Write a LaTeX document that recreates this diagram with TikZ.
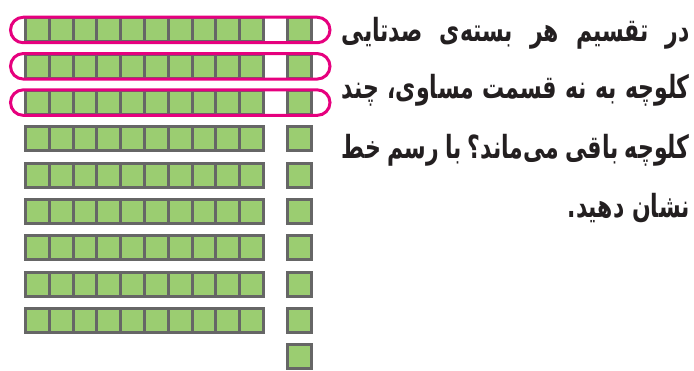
\documentclass[tikz,border=0pt]{standalone}
\usepackage{fontspec}
\usepackage{graphicx}
\newfontfamily\arabicfont[Script=Arabic]{DejaVu Sans}
\TeXXeTstate=1
\definecolor{cellgreen}{HTML}{9BCD71}
\definecolor{cellgray}{HTML}{666666}
\definecolor{ringpink}{HTML}{E6007E}
\definecolor{inkblack}{HTML}{231F20}
\newcommand{\faline}[1]{\scalebox{1}[1.45]{\makebox[348pt][s]{\beginR #1\endR}}}
\begin{document}
\begin{tikzpicture}[x=1pt,y=-1pt,
  cell/.style={draw=cellgray,fill=cellgreen,line width=3pt},
  ring/.style={draw=ringpink,line width=3pt,rounded corners=12.75pt},
  txt/.style={anchor=base east,inner sep=0pt,text=inkblack,font=\arabicfont\bfseries\fontsize{22}{28}\selectfont}]
\useasboundingbox (0,0) rectangle (694,371);
\foreach \i in {0,...,8}{
  \pgfmathsetmacro\yc{30+36.3*\i}
  \foreach \j in {0,...,9}{
    \draw[cell] (25.5+23.8*\j,\yc-12) rectangle ++(23.8,24);
  }
  \draw[cell] (287.5,\yc-12) rectangle ++(23.7,24);
}
\draw[cell] (287.5,356.7-12) rectangle ++(23.7,24);
\foreach \i in {0,1,2}{
  \pgfmathsetmacro\yc{30+36.3*\i}
  \draw[ring] (10.5,\yc-12.75) rectangle (330,\yc+12.75);
}
\node[txt] (l1) at (690,42) {\faline{در تقسیم هر بسته‌ی صدتایی}};
\node[txt] (l2) at (690,99) {\faline{کلوچه به نه قسمت مساوی، چند}};
\node[txt] (l3) at (690,159) {\faline{کلوچه باقی می‌ماند؟ با رسم خط}};
\node[txt] (l4) at (690,218) {\scalebox{1}[1.45]{\beginR نشان دهید.\endR}};
\end{tikzpicture}
\end{document}
